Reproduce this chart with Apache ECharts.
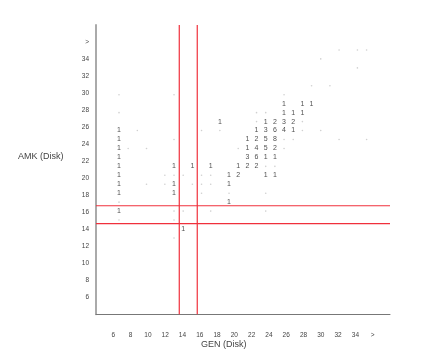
<!DOCTYPE html>
<html><head><meta charset="utf-8">
<script src="https://cdn.jsdelivr.net/npm/echarts@6/dist/echarts.min.js"></script>
<style>html,body{margin:0;padding:0;background:#fff}#c{width:421px;height:362px}</style>
</head><body><div id="c"></div>
<script>
// tick labels (label axes run 4..38, step 2)
const xTickValues = [6,8,10,12,14,16,18,20,22,24,26,28,30,32,34,36];
const xTickText   = ['6','8','10','12','14','16','18','20','22','24','26','28','30','32','34','>'];
const yTickValues = [6,8,10,12,14,16,18,20,22,24,26,28,30,32,34,36];
const yTickText   = ['6','8','10','12','14','16','18','20','22','24','26','28','30','32','34','>'];

// count cells: column (GEN), row (AMK), count
const countGen = [24,26,27, 24,25,26, 17,22,23,24,25, 6,21,22,23,24,25, 6,20,21,22,23, 6,20,21,22,23, 6,20,21,22,23, 6,12,14,16,19,20,21, 6,18,19,22,23, 6,12,18, 6,12, 18, 6, 13];
const countAmk = [28,28,28, 27,27,27, 26,26,26,26,26, 25,25,25,25,25,25, 24,24,24,24,24, 23,23,23,23,23, 22,22,22,22,22, 21,21,21,21,21,21,21, 20,20,20,20,20, 19,19,19, 18,18, 17, 16, 14];
const countN   = [1,1,1, 1,1,1, 1,1,2,3,2, 1,1,3,6,4,1, 1,1,2,5,8, 1,1,4,5,2, 1,3,6,1,1, 1,1,1,1,1,2,2, 1,1,2,1,1, 1,1,1, 1,1, 1, 1, 1];

// faint dot cells: column, row
const dotGen = [6,6,6,6, 7, 8, 9,9, 11,11, 12,12,12,12,12,12, 13,13, 14, 15,15,15,15, 16,16,16, 17, 18, 19, 21,21, 22,22,22,22, 23, 24,24,24, 25, 26,26, 27, 28,28, 29, 30,30, 32,32, 33,33];
const dotAmk = [29,27,17,15, 23, 25, 23,19, 20,19, 29,24,20,16,15,13, 20,16, 19, 25,20,19,18, 20,19,16, 25, 18, 23, 27,26, 27,21,18,16, 21, 29,24,23, 24, 26,25, 30, 33,25, 30, 34,24, 34,32, 34,24];

// reference lines (label-axis units)
const genLines = [13.63, 15.71];
const amkLines = [14.65, 16.76];
const axisMin = 4, axisMax = 38;

const FONT = 'Liberation Sans, Arial, sans-serif';
const RED = '#f0303c';
function tickFmt(values, texts) {
  return function (v) { const i = values.indexOf(Math.round(v)); return i >= 0 && Math.abs(v - values[i]) < 1e-6 ? texts[i] : ''; };
}

const counts = countGen.map((g, i) => [g, countAmk[i], countN[i]]);
const dots = dotGen.map((g, i) => [g, dotAmk[i]]);

function refLine(data) {
  return { type: 'line', xAxisIndex: 0, yAxisIndex: 0, data: data, symbol: 'none', silent: true,
    color: RED, lineStyle: { color: RED, width: 1.2 }, itemStyle: { color: RED }, z: 5 };
}
const refSeries = genLines.map(v => refLine([[v, axisMin], [v, axisMax]]))
  .concat(amkLines.map(v => refLine([[axisMin, v], [axisMax, v]])));

const chart = echarts.init(document.getElementById('c'), null, { renderer: 'canvas' });
chart.setOption({
  animation: false,
  backgroundColor: '#fff',
  grid: { left: 96, top: 25, right: 31, bottom: 47.7, containLabel: false },
  xAxis: [
    { type: 'value', min: axisMin, max: axisMax, interval: 2,
      axisLine: { show: true, lineStyle: { color: '#777', width: 1 } },
      axisTick: { show: false }, splitLine: { show: false },
      axisLabel: { showMinLabel: false, showMaxLabel: false, margin: 17, fontSize: 6.5, color: '#444', fontFamily: FONT,
                   formatter: tickFmt(xTickValues, xTickText) } },
    { type: 'value', min: 3.492, max: 35.553, show: false }
  ],
  yAxis: [
    { type: 'value', min: axisMin, max: axisMax, interval: 2,
      axisLine: { show: true, lineStyle: { color: '#aaa', width: 2 } },
      axisTick: { show: false }, splitLine: { show: false },
      axisLabel: { showMinLabel: false, showMaxLabel: false, margin: 7, fontSize: 6.5, color: '#444', fontFamily: FONT,
                   formatter: tickFmt(yTickValues, yTickText) } },
    { type: 'value', min: 4.47, max: 36.79, show: false }
  ],
  graphic: [
    { type: 'text', left: 18, top: 152, style: { text: 'AMK (Disk)', font: '9px ' + FONT, fill: '#444' } },
    { type: 'text', left: 201, top: 340, style: { text: 'GEN (Disk)', font: '9px ' + FONT, fill: '#444' } }
  ],
  series: [
    { type: 'scatter', xAxisIndex: 1, yAxisIndex: 1, data: dots, symbol: 'circle', symbolSize: 1.6,
      itemStyle: { color: '#c4c4c4' }, silent: true },
    { type: 'scatter', xAxisIndex: 1, yAxisIndex: 1, data: counts, symbol: 'circle', symbolSize: 1,
      itemStyle: { color: 'rgba(0,0,0,0)' }, silent: true,
      label: { show: true, position: 'inside', formatter: p => String(p.value[2]), color: '#222', fontSize: 7, fontFamily: FONT } }
  ].concat(refSeries)
});
</script></body></html>
